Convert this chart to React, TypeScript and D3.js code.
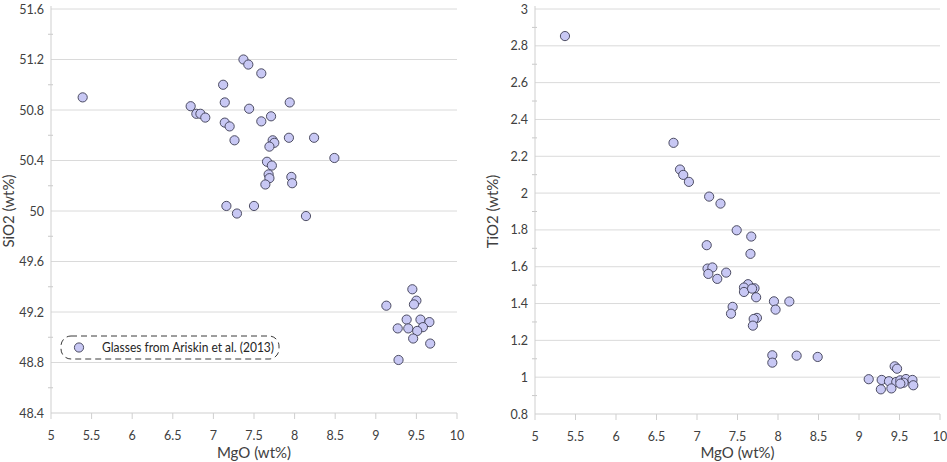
import React, { useEffect, useRef } from 'react';
import * as d3 from 'd3';

// Glasses from Ariskin et al. (2013)
const mgoSi = [5.39, 7.37, 7.43, 7.59, 7.12, 6.72, 7.14, 7.94, 6.79, 6.84, 6.90, 7.44, 7.71, 7.14, 7.20, 7.59,
    7.26, 7.73, 7.75, 7.69, 7.93, 8.24, 8.49, 7.66, 7.72, 7.68, 7.69, 7.96, 7.97, 7.64, 7.16, 7.29, 7.50, 8.14,
    9.45, 9.50, 9.47, 9.13, 9.38, 9.55, 9.66, 9.27, 9.40, 9.58, 9.51, 9.46, 9.67, 9.28];
const sio2 = [50.90, 51.20, 51.16, 51.09, 51.00, 50.83, 50.86, 50.86, 50.77, 50.77, 50.74, 50.81, 50.75, 50.70, 50.67, 50.71,
    50.56, 50.56, 50.54, 50.51, 50.58, 50.58, 50.42, 50.39, 50.36, 50.29, 50.26, 50.27, 50.22, 50.21, 50.04, 49.98, 50.04, 49.96,
    49.38, 49.29, 49.26, 49.25, 49.14, 49.14, 49.12, 49.07, 49.07, 49.08, 49.05, 48.99, 48.95, 48.82];

const mgoTi = [5.37, 6.71, 6.79, 6.83, 6.90, 7.15, 7.29, 7.49, 7.67, 7.12, 7.66, 7.13, 7.19, 7.14, 7.36, 7.25,
    7.63, 7.58, 7.58, 7.71, 7.68, 7.73, 7.95, 8.14, 7.97, 7.44, 7.42, 7.74, 7.70, 7.69, 7.93, 8.23, 8.49, 7.93,
    9.44, 9.47, 9.12, 9.28, 9.37, 9.46, 9.51, 9.58, 9.66, 9.55, 9.51, 9.67, 9.27, 9.40];
const tio2 = [2.853, 2.273, 2.128, 2.099, 2.061, 1.981, 1.943, 1.798, 1.764, 1.717, 1.670, 1.590, 1.596, 1.561, 1.568, 1.534,
    1.505, 1.487, 1.463, 1.483, 1.481, 1.434, 1.412, 1.411, 1.367, 1.382, 1.345, 1.322, 1.316, 1.280, 1.119, 1.117, 1.110, 1.079,
    1.059, 1.046, 0.989, 0.985, 0.978, 0.974, 0.983, 0.990, 0.985, 0.970, 0.965, 0.956, 0.934, 0.939];

const xTicks = [5, 5.5, 6, 6.5, 7, 7.5, 8, 8.5, 9, 9.5, 10];
const siTicks = [48.4, 48.8, 49.2, 49.6, 50, 50.4, 50.8, 51.2, 51.6];
const tiTicks = [0.8, 1, 1.2, 1.4, 1.6, 1.8, 2, 2.2, 2.4, 2.6, 2.8, 3];

const legendLabel = 'Glasses from Ariskin et al. (2013)';
const font = 'Lato, "Open Sans", sans-serif';
const fmt = d3.format('~g');

const App: React.FC = () => {
    const ref = useRef<SVGSVGElement>(null);

    useEffect(() => {
        const svg = d3.select(ref.current);
        svg.selectAll('*').remove();

        const panel = (box: { x0: number; x1: number; y0: number; y1: number }, xs: number[], ys: number[], yTicks: number[], yTitle: string, legend: boolean) => {
            const g = svg.append('g');
            const x = d3.scaleLinear().domain([5, 10]).range([box.x0, box.x1]);
            const y = d3.scaleLinear().domain([yTicks[0], yTicks[yTicks.length - 1]]).range([box.y1, box.y0]);

            // gridlines
            g.selectAll('.grid').data(yTicks.slice(1)).enter().append('line')
                .attr('x1', box.x0).attr('x2', box.x1)
                .attr('y1', d => y(d)).attr('y2', d => y(d))
                .attr('stroke', '#dadada').attr('stroke-width', 1);

            // minor ticks on y axis
            const minor = yTicks.slice(1).map((t, i) => (t + yTicks[i]) / 2);
            g.selectAll('.minor').data(minor).enter().append('line')
                .attr('x1', box.x0 - 3).attr('x2', box.x0 + 2)
                .attr('y1', d => y(d)).attr('y2', d => y(d))
                .attr('stroke', '#c8c8c8');

            // axes
            g.append('line').attr('x1', box.x0).attr('x2', box.x0).attr('y1', box.y0 - 3).attr('y2', box.y1)
                .attr('stroke', '#cfcfcf');
            g.append('line').attr('x1', box.x0).attr('x2', box.x1).attr('y1', box.y1).attr('y2', box.y1)
                .attr('stroke', '#cfcfcf');
            g.selectAll('.xt').data(xTicks).enter().append('line')
                .attr('x1', d => x(d)).attr('x2', d => x(d))
                .attr('y1', box.y1).attr('y2', box.y1 + 6)
                .attr('stroke', '#cfcfcf');

            g.selectAll('.xl').data(xTicks).enter().append('text')
                .attr('x', d => x(d)).attr('y', box.y1 + 27)
                .attr('text-anchor', 'middle')
                .attr('font-family', font).attr('font-size', 12.5).attr('fill', '#404040')
                .text(d => fmt(d));
            g.selectAll('.yl').data(yTicks).enter().append('text')
                .attr('x', box.x0 - 7).attr('y', d => y(d) + 4.5)
                .attr('text-anchor', 'end')
                .attr('font-family', font).attr('font-size', 12.5).attr('fill', '#404040')
                .text(d => fmt(d));

            g.append('text')
                .attr('x', (box.x0 + box.x1) / 2).attr('y', 458)
                .attr('text-anchor', 'middle')
                .attr('font-family', font).attr('font-size', 15).attr('fill', '#404040')
                .text('MgO (wt%)');
            g.append('text')
                .attr('transform', `translate(${box.x0 - 37},${(box.y0 + box.y1) / 2}) rotate(-90)`)
                .attr('text-anchor', 'middle')
                .attr('font-family', font).attr('font-size', 15).attr('fill', '#404040')
                .text(yTitle);

            g.selectAll('.pt').data(xs.map((v, i) => [v, ys[i]])).enter().append('circle')
                .attr('cx', d => x(d[0])).attr('cy', d => y(d[1]))
                .attr('r', 4.6)
                .attr('fill', '#c8c8f4').attr('stroke', '#3c3c52').attr('stroke-width', 0.9);

            if (legend) {
                const lg = g.append('g');
                lg.append('rect').attr('x', 61).attr('y', 336).attr('width', 218).attr('height', 23).attr('rx', 10)
                    .attr('fill', 'white').attr('stroke', '#3a3a3a').attr('stroke-dasharray', '6,4');
                lg.append('circle').attr('cx', 79).attr('cy', 347.5).attr('r', 4.6)
                    .attr('fill', '#c8c8f4').attr('stroke', '#3c3c52').attr('stroke-width', 0.9);
                lg.append('text').attr('x', 102).attr('y', 352)
                    .attr('font-family', font).attr('font-size', 12.5).attr('fill', '#262626')
                    .attr('textLength', 172).attr('lengthAdjust', 'spacingAndGlyphs')
                    .text(legendLabel);
            }
        };

        panel({ x0: 51, x1: 457, y0: 9, y1: 413 }, mgoSi, sio2, siTicks, 'SiO2 (wt%)', true);
        panel({ x0: 535, x1: 940, y0: 9, y1: 414 }, mgoTi, tio2, tiTicks, 'TiO2 (wt%)', false);
    }, []);

    return <svg ref={ref} width={947} height={462} style={{ position: 'absolute', left: 0, top: 0, background: 'white' }}></svg>;
};

export default App;
